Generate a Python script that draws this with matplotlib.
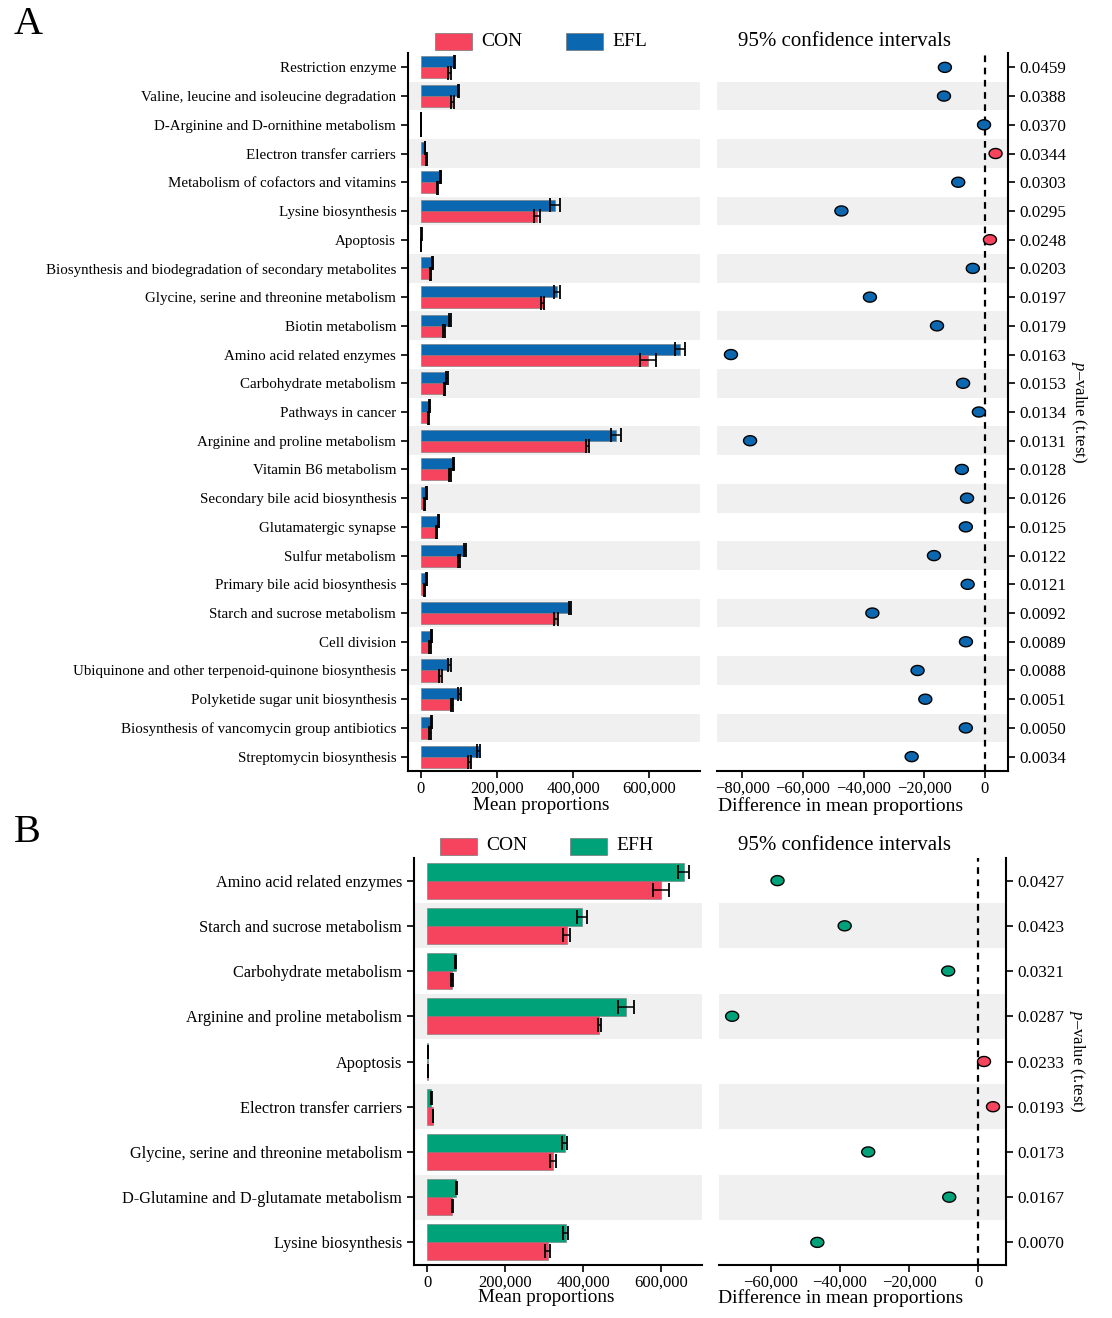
import numpy as np
import matplotlib
matplotlib.use('Agg')
import matplotlib.pyplot as plt
from matplotlib.patches import Rectangle
from matplotlib.path import Path
from matplotlib.ticker import FuncFormatter

plt.rcParams['font.family'] = ['Liberation Serif', 'DejaVu Serif']
plt.rcParams['mathtext.fontset'] = 'custom'
plt.rcParams['mathtext.it'] = 'Liberation Serif:italic'
plt.rcParams['mathtext.rm'] = 'Liberation Serif'

CON_COL = '#F7445E'
EFL_COL = '#0B67B0'
EFH_COL = '#00A27A'
BAND = '#F0F0F0'

# ---- panel A: CON vs EFL ----
a_names = ['Restriction enzyme', 'Valine, leucine and isoleucine degradation',
           'D-Arginine and D-ornithine metabolism', 'Electron transfer carriers',
           'Metabolism of cofactors and vitamins', 'Lysine biosynthesis', 'Apoptosis',
           'Biosynthesis and biodegradation of secondary metabolites',
           'Glycine, serine and threonine metabolism', 'Biotin metabolism',
           'Amino acid related enzymes', 'Carbohydrate metabolism', 'Pathways in cancer',
           'Arginine and proline metabolism', 'Vitamin B6 metabolism',
           'Secondary bile acid biosynthesis', 'Glutamatergic synapse', 'Sulfur metabolism',
           'Primary bile acid biosynthesis', 'Starch and sucrose metabolism', 'Cell division',
           'Ubiquinone and other terpenoid-quinone biosynthesis',
           'Polyketide sugar unit biosynthesis', 'Biosynthesis of vancomycin group antibiotics',
           'Streptomycin biosynthesis']
a_efl = [87600, 98000, 1200, 10500, 52000, 353000, 1500, 31000, 358000, 76000,
         682000, 69000, 23000, 513000, 86000, 15000, 47000, 116000, 15000, 393000,
         28000, 74500, 101600, 28000, 151600]
a_efl_err = [1500, 1500, 300, 1000, 1500, 13500, 300, 1000, 9000, 3000,
             13000, 2000, 1500, 14000, 2000, 1000, 1500, 3000, 1000, 3000,
             1500, 3500, 3500, 1500, 4000]
a_con = [74500, 83000, 1000, 14700, 43500, 305000, 1000, 26000, 320000, 60000,
         597000, 62000, 19000, 437000, 77000, 10000, 42000, 100000, 10000, 355000,
         24000, 51000, 81600, 24000, 128000]
a_con_err = [4000, 4000, 300, 1000, 2000, 7000, 300, 1000, 5000, 2500,
             20000, 2000, 1500, 4000, 2000, 1000, 1500, 3000, 1000, 6000,
             1500, 3500, 3000, 1500, 4000]
a_diff = [-13200, -13500, -300, 3500, -8800, -47300, 1650, -4000, -37900, -15800,
          -83700, -7200, -2000, -77400, -7600, -5900, -6300, -16800, -5700, -37100,
          -6260, -22200, -19650, -6300, -24150]
a_p = ['0.0459', '0.0388', '0.0370', '0.0344', '0.0303', '0.0295', '0.0248', '0.0203',
       '0.0197', '0.0179', '0.0163', '0.0153', '0.0134', '0.0131', '0.0128', '0.0126',
       '0.0125', '0.0122', '0.0121', '0.0092', '0.0089', '0.0088', '0.0051', '0.0050',
       '0.0034']

# ---- panel B: CON vs EFH ----
b_names = ['Amino acid related enzymes', 'Starch and sucrose metabolism',
           'Carbohydrate metabolism', 'Arginine and proline metabolism', 'Apoptosis',
           'Electron transfer carriers', 'Glycine, serine and threonine metabolism',
           'D-Glutamine and D-glutamate metabolism', 'Lysine biosynthesis']
b_efh = [658000, 396000, 73000, 510000, 1500, 11000, 353000, 75000, 355000]
b_efh_err = [14000, 13000, 2000, 20000, 300, 1000, 6000, 2000, 6000]
b_con = [600000, 358000, 64000, 441000, 1500, 15500, 322000, 65000, 309000]
b_con_err = [20000, 8500, 2000, 4000, 300, 1000, 8000, 2000, 7000]
b_diff = [-58000, -38600, -8700, -71100, 1650, 4250, -31800, -8400, -46500]
b_p = ['0.0427', '0.0423', '0.0321', '0.0287', '0.0233', '0.0193', '0.0173', '0.0167',
       '0.0070']

# slightly wide oval marker, like the source figure
t = np.linspace(0, 2 * np.pi, 60)
OVAL = Path(np.column_stack([1.3 * np.cos(t), np.sin(t)]), closed=True)

W, H = 1112, 1318


def fmt_num(v, pos):
    return '{:,.0f}'.format(v).replace('-', '\u2212')


def style_ax(ax):
    for s in ax.spines.values():
        s.set_linewidth(1.5)
    ax.tick_params(width=1.2, length=5, colors='black')


def draw_panel(fig, bar_rect, dot_rect, names, con, con_err, trt, trt_err, diff, pvals,
               trt_col, bar_xlim, dot_xlim, dot_xticks, name_fs, bar_h, ms, lab_x, lab_off):
    n = len(names)
    y = np.arange(n)
    ylim = (n - 0.5, -0.5)
    lab_y = -lab_off / (bar_rect[3] * H)

    axb = fig.add_axes(bar_rect)
    for i in range(1, n, 2):
        axb.axhspan(i - 0.5, i + 0.5, color=BAND, zorder=0, lw=0)
    axb.barh(y - bar_h / 2, trt, height=bar_h, color=trt_col, edgecolor='#777777',
             lw=0.4, zorder=2)
    axb.barh(y + bar_h / 2, con, height=bar_h, color=CON_COL, edgecolor='#777777',
             lw=0.4, zorder=2)
    axb.errorbar(trt, y - bar_h / 2, xerr=trt_err, fmt='none', ecolor='black',
                 elinewidth=1.1, capsize=5, capthick=1.3, zorder=3)
    axb.errorbar(con, y + bar_h / 2, xerr=con_err, fmt='none', ecolor='black',
                 elinewidth=1.1, capsize=5, capthick=1.3, zorder=3)
    axb.set_xlim(*bar_xlim)
    axb.set_ylim(*ylim)
    axb.set_yticks(y)
    axb.set_yticklabels(names, fontsize=name_fs)
    axb.set_xticks([0, 200000, 400000, 600000])
    axb.xaxis.set_major_formatter(FuncFormatter(fmt_num))
    axb.tick_params(axis='x', labelsize=12, pad=2)
    axb.set_xlabel('Mean proportions', fontsize=13.8)
    axb.xaxis.set_label_coords(lab_x[0], lab_y)
    axb.spines['top'].set_visible(False)
    axb.spines['right'].set_visible(False)
    style_ax(axb)

    axd = fig.add_axes(dot_rect)
    for i in range(1, n, 2):
        axd.axhspan(i - 0.5, i + 0.5, color=BAND, zorder=0, lw=0)
    axd.axvline(0, color='black', ls=(0, (3, 2.5)), lw=1.6, zorder=1)
    cols = [CON_COL if d > 0 else trt_col for d in diff]
    axd.scatter(diff, y, s=ms, c=cols, marker=OVAL, edgecolors='black',
                linewidths=1.0, zorder=3)
    axd.set_xlim(*dot_xlim)
    axd.set_ylim(*ylim)
    axd.set_xticks(dot_xticks)
    axd.xaxis.set_major_formatter(FuncFormatter(fmt_num))
    axd.tick_params(axis='x', labelsize=12, pad=2)
    axd.set_xlabel('Difference in mean proportions', fontsize=14)
    axd.xaxis.set_label_coords(lab_x[1], lab_y)
    axd.yaxis.tick_right()
    axd.set_yticks(y)
    axd.set_yticklabels(pvals, fontsize=12.3)
    axd.yaxis.set_label_position('right')
    axd.set_ylabel('$p$\u2013value (t.test)', fontsize=12, rotation=270, labelpad=16)
    axd.spines['top'].set_visible(False)
    axd.spines['left'].set_visible(False)
    style_ax(axd)
    return axb, axd


fig = plt.figure(figsize=(W / 100, H / 100), dpi=100)


def fr(left, right, top, bottom):
    return [left / W, 1 - bottom / H, (right - left) / W, (bottom - top) / H]


draw_panel(fig, fr(408, 700, 53, 771), fr(717, 1008, 53, 771),
           a_names, a_con, a_con_err, a_efl, a_efl_err, a_diff, a_p, EFL_COL,
           (-34000, 734000), (-88300, 7600), [-80000, -60000, -40000, -20000, 0],
           10.8, 0.385, 88, (0.455, 0.426), 26)
draw_panel(fig, fr(414, 702, 858, 1265), fr(719, 1006, 858, 1265),
           b_names, b_con, b_con_err, b_efh, b_efh_err, b_diff, b_p, EFH_COL,
           (-33400, 704500), (-74900, 8000), [-60000, -40000, -20000, 0],
           11.7, 0.40, 88, (0.458, 0.425), 24)


def legend(y_px, x_con, x_trt, trt_name, trt_col, title_x):
    for x0, col, lab in [(x_con, CON_COL, 'CON'), (x_trt, trt_col, trt_name)]:
        fig.add_artist(Rectangle((x0 / W, 1 - (y_px + 8.5) / H), 37 / W, 17 / H,
                                 transform=fig.transFigure, facecolor=col,
                                 edgecolor='#777777', lw=0.5))
        fig.text((x0 + 46) / W, 1 - y_px / H, lab, fontsize=14, va='center', ha='left')
    fig.text(title_x / W, 1 - y_px / H, '95% confidence intervals', fontsize=15,
             va='center', ha='center')


legend(41, 435, 566, 'EFL', EFL_COL, 844)
legend(846, 440, 570, 'EFH', EFH_COL, 844)

fig.text(14 / W, 1 - 24 / H, 'A', fontsize=29, va='center', ha='left')
fig.text(14 / W, 1 - 833 / H, 'B', fontsize=29, va='center', ha='left')

fig.savefig('out.png', dpi=100)
